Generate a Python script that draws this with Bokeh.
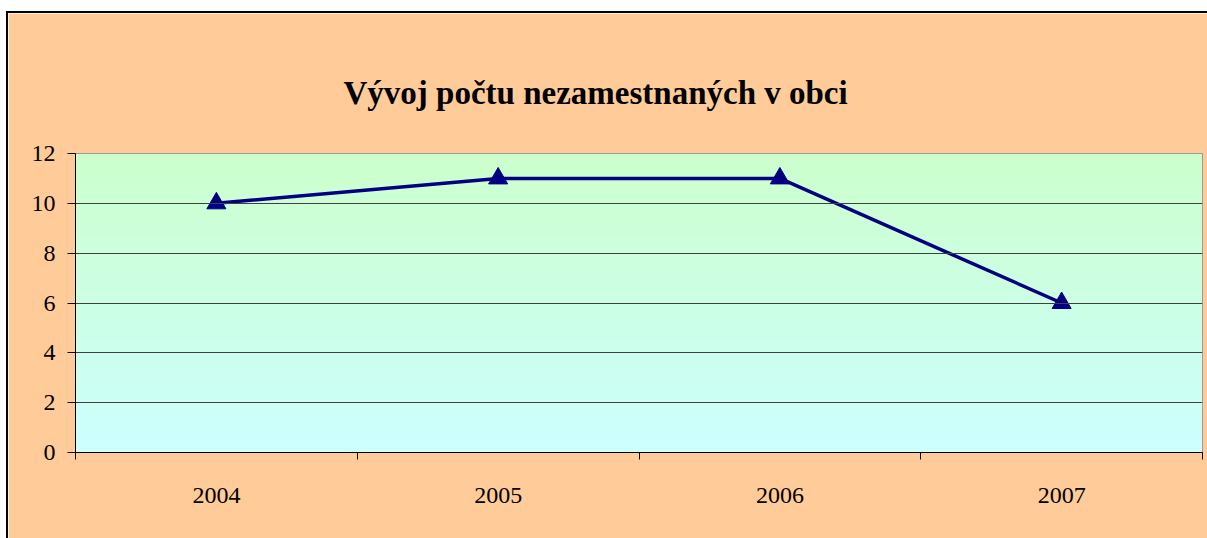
import numpy as np
from bokeh.plotting import figure
from bokeh.models import Range1d, FixedTicker, Title, Spacer
from bokeh.layouts import column, row
from bokeh.embed import file_html
from bokeh.resources import INLINE

years = ["2004", "2005", "2006", "2007"]
unemployed = [10, 11, 11, 6]
y_ticks = [0, 2, 4, 6, 8, 10, 12]

FONT = "Liberation Serif"

p = figure(width=1199, height=525, output_backend="svg", toolbar_location=None,
           x_range=Range1d(0, len(years)), y_range=Range1d(0, 12),
           min_border_left=67, min_border_right=5, min_border_top=140, min_border_bottom=86)
p.background_fill_color = "#CCFFCC"
p.border_fill_color = "#FFCC99"
p.outline_line_color = "#808080"
p.outline_line_width = 1

# gradient plot background
n = 256
t = np.linspace(0, 1, n)
img = np.empty((n, 1), dtype=np.uint32)
view = img.view(dtype=np.uint8).reshape((n, 1, 4))
view[:, 0, 0] = 0xCC
view[:, 0, 1] = 0xFF
view[:, 0, 2] = (0xFF + (0xCC - 0xFF) * t).astype(np.uint8)
view[:, 0, 3] = 255
p.image_rgba(image=[img], x=0, y=0, dw=len(years), dh=12, level="underlay")

# grid
p.xgrid.visible = False
p.ygrid.ticker = FixedTicker(ticks=y_ticks)
p.ygrid.grid_line_color = "#404040"
p.ygrid.grid_line_width = 1
p.ygrid.level = "glyph"

xs = [i + 0.5 for i in range(len(years))]
p.line(xs, unemployed, line_color="#000080", line_width=3.5)
p.scatter(xs, unemployed, marker="triangle", size=19, fill_color="#000080", line_color="#000080")

# x axis
xa = p.xaxis[0]
xa.ticker = FixedTicker(ticks=xs, minor_ticks=list(range(len(years) + 1)))
xa.major_label_overrides = {x: y for x, y in zip(xs, years)}
xa.major_tick_line_color = None
xa.minor_tick_line_color = "black"
xa.minor_tick_out = 7
xa.minor_tick_in = 0
xa.axis_line_color = "black"
xa.major_label_standoff = 28
xa.major_label_text_font = FONT
xa.major_label_text_font_size = "24px"
xa.major_label_text_color = "black"

ya = p.yaxis[0]
ya.ticker = FixedTicker(ticks=y_ticks)
ya.minor_tick_line_color = None
ya.major_tick_out = 8
ya.major_tick_in = 0
ya.axis_line_color = "black"
ya.major_tick_line_color = "black"
ya.major_label_standoff = 12
ya.major_label_text_font = FONT
ya.major_label_text_font_size = "24px"
ya.major_label_text_color = "black"

title = Title(text="Vývoj počtu nezamestnaných v obci", align="left", offset=268,
              text_font=FONT, text_font_size="33px", text_font_style="bold",
              text_color="black", standoff=86)
p.add_layout(title, "above")

black = {"background-color": "black"}
layout = column(
    Spacer(width=1207, height=11),
    row(
        Spacer(width=6, height=527),
        column(
            Spacer(width=1201, height=2, styles=black),
            row(Spacer(width=2, height=525, styles=black), p),
        ),
    ),
)

open("out.html", "w").write(file_html(layout, INLINE))
